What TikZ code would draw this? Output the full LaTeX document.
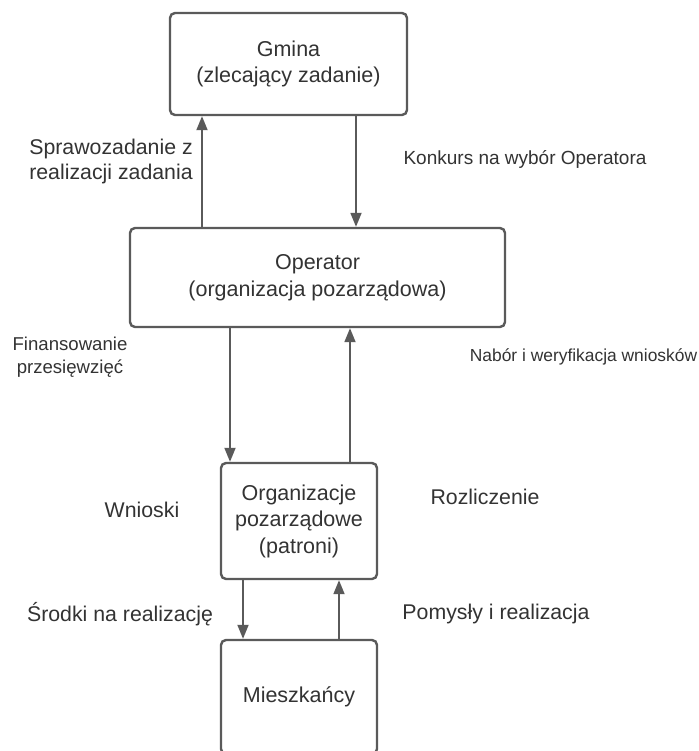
\documentclass[tikz,border=0pt]{standalone}
\usepackage{fontspec}
\setmainfont{Liberation Sans}
\usetikzlibrary{arrows.meta, positioning}
\definecolor{linegray}{HTML}{5A5A5A}
\definecolor{textgray}{HTML}{333333}
\tikzset{
	box/.style={draw=linegray, line width=2.4pt, rounded corners=5pt, fill=white, align=center, text=textgray, font=\fontsize{21.5}{26.5}\selectfont},
	flow/.style={draw=linegray, line width=1.8pt, -{Triangle[length=14pt, width=11pt]}},
	lbl/.style={text=textgray, align=center, inner sep=0pt, font=\fontsize{21.3}{25}\selectfont},
	small/.style={text=textgray, inner sep=0pt}
}

\begin{document}
\begin{tikzpicture}[x=1pt, y=-1pt]
		\clip (0,0) rectangle (698,751);
		\fill[white] (0,0) rectangle (698,751);
		\node[box, minimum width=237pt, minimum height=102pt] (gmina) at (288.5,64) {Gmina\\(zlecający zadanie)};
		\node[box, minimum width=375pt, minimum height=99pt] (operator) at (317.5,277.5) {Operator\\(organizacja pozarządowa)};
		\node[box, minimum width=156pt, minimum height=116pt] (org) at (299,521) {Organizacje\\pozarządowe\\(patroni)};
		\node[box, minimum width=156pt, minimum height=114pt] (mieszk) at (299,697) {Mieszkańcy};
		\draw [flow] ([xshift=-86.5pt]gmina.south |- operator.north) -- ([xshift=-86.5pt]gmina.south);
		\draw [flow] ([xshift=67.5pt]gmina.south) -- ([xshift=67.5pt]gmina.south |- operator.north);
		\draw [flow] ([xshift=-87.5pt]operator.south) -- ([xshift=-87.5pt]operator.south |- org.north);
		\draw [flow] ([xshift=32.5pt]operator.south |- org.north) -- ([xshift=32.5pt]operator.south);
		\draw [flow] ([xshift=-56pt]org.south) -- ([xshift=-56pt]org.south |- mieszk.north);
		\draw [flow] ([xshift=40pt]org.south |- mieszk.north) -- ([xshift=40pt]org.south);
		\node[lbl] (spraw) at (111,161) {Sprawozadanie z\\realizacji zadania};
		\node[small, font=\fontsize{19}{22}\selectfont] (konkurs) at (525,159) {Konkurs na wybór Operatora};
		\node[lbl, font=\fontsize{18.6}{23}\selectfont] (finans) at (70,357) {Finansowanie\\przesięwzięć};
		\node[small, font=\fontsize{17.4}{20}\selectfont] (nabor) at (583.5,357) {Nabór i weryfikacja wniosków};
		\node[lbl] (wnioski) at (142,510) {Wnioski};
		\node[lbl] (rozl) at (485,497) {Rozliczenie};
		\node[lbl] (srodki) at (120,614) {Środki na realizację};
		\node[lbl] (pomysly) at (496,614) {Pomysły i realizacja};
	\end{tikzpicture}
\end{document}
